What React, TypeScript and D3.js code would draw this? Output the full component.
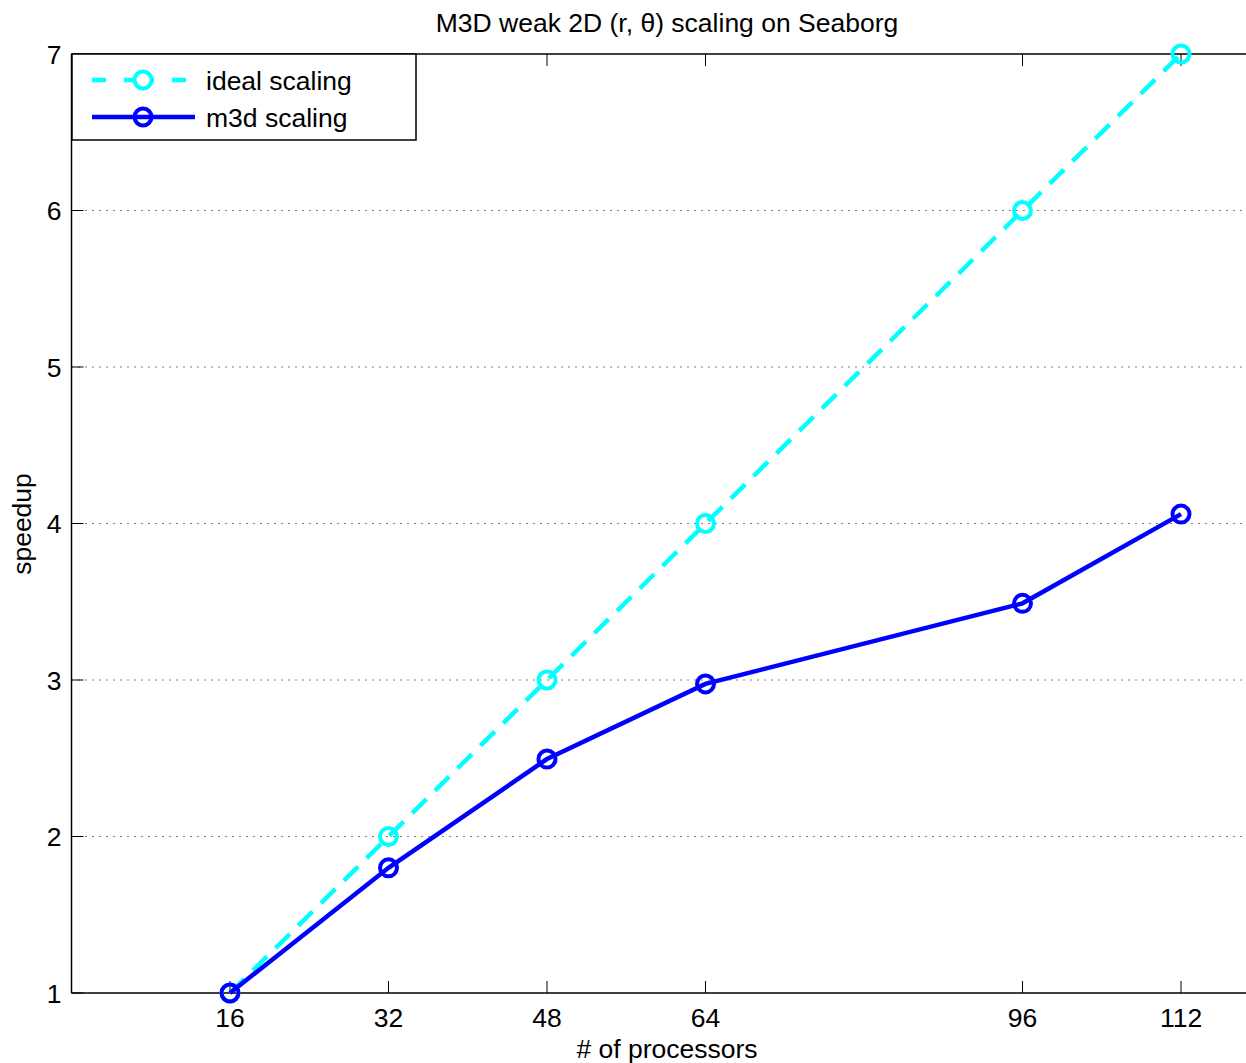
import React from "react";
import * as d3 from "d3";

const procs = [16, 32, 48, 64, 96, 112];
const idealSpeedup = [1, 2, 3, 4, 6, 7];
const m3dSpeedup = [1, 1.8, 2.495, 2.975, 3.49, 4.06];
const xTicks = [16, 32, 48, 64, 96, 112];
const yTicks = [1, 2, 3, 4, 5, 6, 7];
const gridY = [2, 3, 4, 5, 6];

const W = 1246;
const H = 1063;
const FONT = "'Liberation Sans', Arial, Helvetica, sans-serif";
const FS = 26.5;

export default function App() {
  const x = d3.scaleLinear().domain([0, 120]).range([71.5, 71.5 + 120 * (951 / 96)]);
  const y = d3.scaleLinear().domain([1, 7]).range([993, 54]);
  const left = x(0);
  const right = W + 20;
  const top = y(7);
  const bottom = y(1);

  const line = d3
    .line<[number, number]>()
    .x((d) => x(d[0]))
    .y((d) => y(d[1]));
  const idealPts: [number, number][] = procs.map((p, i) => [p, idealSpeedup[i]]);
  const m3dPts: [number, number][] = procs.map((p, i) => [p, m3dSpeedup[i]]);

  const cyan = "#00ffff";
  const blue = "#0000ff";

  return (
    <svg width={W} height={H} style={{ position: "absolute", left: 0, top: 0, background: "#fff" }}>
      <rect x={0} y={0} width={W} height={H} fill="#fff" />
      {gridY.map((v) => (
        <line key={v} x1={left} x2={right} y1={y(v)} y2={y(v)} stroke="#000" strokeWidth={1} strokeDasharray="1,6" />
      ))}
      <line x1={left} x2={right} y1={bottom} y2={bottom} stroke="#000" strokeWidth={1.5} />
      <line x1={left} x2={right} y1={top} y2={top} stroke="#000" strokeWidth={1.5} />
      <line x1={left} x2={left} y1={top} y2={bottom} stroke="#000" strokeWidth={1.5} />
      {xTicks.map((t) => (
        <g key={t}>
          <line x1={x(t)} x2={x(t)} y1={bottom} y2={bottom - 12} stroke="#000" strokeWidth={1} />
          <line x1={x(t)} x2={x(t)} y1={top} y2={top + 12} stroke="#000" strokeWidth={1} />
          <text x={x(t)} y={bottom + 34} textAnchor="middle" fontFamily={FONT} fontSize={FS} fill="#000">
            {t}
          </text>
        </g>
      ))}
      {yTicks.map((t) => (
        <g key={t}>
          <line x1={left} x2={left + 12} y1={y(t)} y2={y(t)} stroke="#000" strokeWidth={1} />
          <text x={left - 10} y={y(t) + 9.5} textAnchor="end" fontFamily={FONT} fontSize={FS} fill="#000">
            {t}
          </text>
        </g>
      ))}
      <path d={line(idealPts) || ""} fill="none" stroke={cyan} strokeWidth={4.5} strokeDasharray="20,12" />
      {idealPts.map((d, i) => (
        <circle key={i} cx={x(d[0])} cy={y(d[1])} r={8.5} fill="none" stroke={cyan} strokeWidth={4} />
      ))}
      <path d={line(m3dPts) || ""} fill="none" stroke={blue} strokeWidth={4.5} />
      {m3dPts.map((d, i) => (
        <circle key={i} cx={x(d[0])} cy={y(d[1])} r={8.5} fill="none" stroke={blue} strokeWidth={4} />
      ))}
      <text x={667} y={32} textAnchor="middle" fontFamily={FONT} fontSize={FS} fill="#000">
        M3D weak 2D (r, θ) scaling on Seaborg
      </text>
      <text x={667} y={1058} textAnchor="middle" fontFamily={FONT} fontSize={FS} fill="#000">
        # of processors
      </text>
      <text
        transform={`translate(31, 524) rotate(-90)`}
        textAnchor="middle"
        fontFamily={FONT}
        fontSize={FS}
        fill="#000"
      >
        speedup
      </text>
      <rect x={72} y={54} width={344} height={86} fill="#fff" stroke="#000" strokeWidth={1.5} />
      <line x1={92} x2={195} y1={80} y2={80} stroke={cyan} strokeWidth={4.5} strokeDasharray="14,18,30,18,14" />
      <circle cx={143} cy={80} r={8.5} fill="#fff" stroke={cyan} strokeWidth={4} />
      <text x={206} y={89.5} fontFamily={FONT} fontSize={FS} fill="#000">
        ideal scaling
      </text>
      <line x1={92} x2={195} y1={117} y2={117} stroke={blue} strokeWidth={4.5} />
      <circle cx={143} cy={117} r={8.5} fill="none" stroke={blue} strokeWidth={4} />
      <text x={206} y={126.5} fontFamily={FONT} fontSize={FS} fill="#000">
        m3d scaling
      </text>
    </svg>
  );
}
